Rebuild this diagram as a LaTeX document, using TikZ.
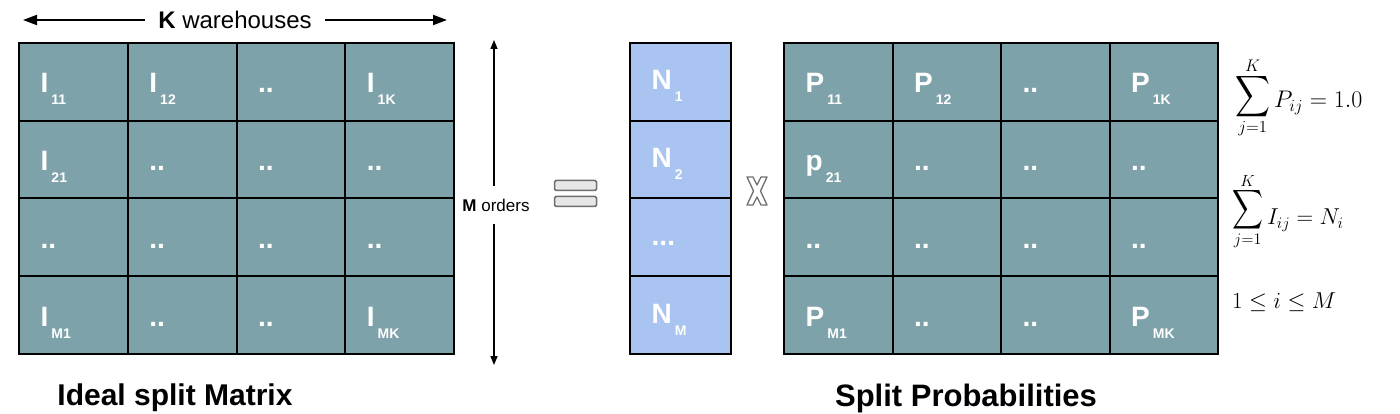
\RequirePackage{fix-cm}
\documentclass[tikz,border=0pt]{standalone}
\usepackage[no-math]{fontspec}
\setmainfont{Liberation Sans}
\usepackage{graphicx}
\usetikzlibrary{arrows.meta,calc}
\definecolor{cellteal}{HTML}{7EA2AA}
\definecolor{cellblue}{HTML}{A9C4F0}
\definecolor{eqgray}{HTML}{E6E6E6}
\definecolor{eqedge}{HTML}{6E6E6E}
\newcommand\lbl[2]{\fontsize{28}{28}\selectfont\bfseries #1\kern3pt\raisebox{-12pt}{\fontsize{14}{14}\selectfont #2}}
\newcommand\twodots{\fontsize{28}{28}\selectfont\bfseries ..}
\newcommand\threedots{\fontsize{28}{28}\selectfont\bfseries ...}
\newcommand\bigsum[3]{\mathop{\raisebox{#3}{$\vcenter{\hbox{\resizebox*{#1}{#2}{$\displaystyle\sum$}}}$}}\limits}
\begin{document}
\begin{tikzpicture}[x=1pt,y=-1pt,
  cellT/.style={draw=black,line width=2pt,fill=cellteal,minimum width=108.75pt,minimum height=77.75pt,inner sep=0pt,anchor=north west},
  cellB/.style={draw=black,line width=2pt,fill=cellblue,minimum width=101pt,minimum height=77.75pt,inner sep=0pt,anchor=north west},
  lab/.style={text=white,anchor=base west,inner sep=0pt,xshift=22.5pt,yshift=-51pt},
  karr/.style={line width=2pt,-{Triangle[length=14pt,width=10pt]}},
  marr/.style={line width=1.5pt,-{Triangle[length=9pt,width=7pt]}},
  eqbar/.style={draw=eqedge,fill=eqgray,line width=1.5pt,rounded corners=1.5pt,minimum width=42pt,minimum height=10pt,inner sep=0pt},
  mth/.style={inner sep=0pt,anchor=base west}]
\useasboundingbox (0,0) rectangle (1400,414);
% matrices
\foreach \r in {1,...,4}{\foreach \c in {1,...,4}{
  \node[cellT] (L\r\c) at ({18+(\c-1)*108.75},{42+(\r-1)*77.75}) {};
  \node[cellT] (R\r\c) at ({783+(\c-1)*108.5},{42+(\r-1)*77.75}) {};
}}
\foreach \r in {1,...,4} \node[cellB] (N\r) at (629,{42+(\r-1)*77.75}) {};
% left labels
\node[lab] (tL11) at (L11.north west) {\lbl{I}{11}};
\node[lab] (tL12) at (L12.north west) {\lbl{I}{12}};
\node[lab] (tL13) at (L13.north west) {\twodots};
\node[lab] (tL14) at (L14.north west) {\lbl{I}{1K}};
\node[lab] (tL21) at (L21.north west) {\lbl{I}{21}};
\node[lab] (tL22) at (L22.north west) {\twodots};
\node[lab] (tL23) at (L23.north west) {\twodots};
\node[lab] (tL24) at (L24.north west) {\twodots};
\node[lab] (tL31) at (L31.north west) {\twodots};
\node[lab] (tL32) at (L32.north west) {\twodots};
\node[lab] (tL33) at (L33.north west) {\twodots};
\node[lab] (tL34) at (L34.north west) {\twodots};
\node[lab] (tL41) at (L41.north west) {\lbl{I}{M1}};
\node[lab] (tL42) at (L42.north west) {\twodots};
\node[lab] (tL43) at (L43.north west) {\twodots};
\node[lab] (tL44) at (L44.north west) {\lbl{I}{MK}};
% right labels
\node[lab] (tR11) at (R11.north west) {\lbl{P}{11}};
\node[lab] (tR12) at (R12.north west) {\lbl{P}{12}};
\node[lab] (tR13) at (R13.north west) {\twodots};
\node[lab] (tR14) at (R14.north west) {\lbl{P}{1K}};
\node[lab] (tR21) at (R21.north west) {\lbl{p}{21}};
\node[lab] (tR22) at (R22.north west) {\twodots};
\node[lab] (tR23) at (R23.north west) {\twodots};
\node[lab] (tR24) at (R24.north west) {\twodots};
\node[lab] (tR31) at (R31.north west) {\twodots};
\node[lab] (tR32) at (R32.north west) {\twodots};
\node[lab] (tR33) at (R33.north west) {\twodots};
\node[lab] (tR34) at (R34.north west) {\twodots};
\node[lab] (tR41) at (R41.north west) {\lbl{P}{M1}};
\node[lab] (tR42) at (R42.north west) {\twodots};
\node[lab] (tR43) at (R43.north west) {\twodots};
\node[lab] (tR44) at (R44.north west) {\lbl{P}{MK}};
% N labels
\node[lab,yshift=3pt] (tN1) at (N1.north west) {\lbl{N}{1}};
\node[lab,yshift=3pt] (tN2) at (N2.north west) {\lbl{N}{2}};
\node[lab,yshift=3pt] (tN3) at (N3.north west) {\threedots};
\node[lab,yshift=3pt] (tN4) at (N4.north west) {\lbl{N}{M}};
% K warehouses
\node[inner xsep=13pt,inner ysep=0pt] (ktext) at (235,20) {\fontsize{24}{24}\selectfont\textbf{K} warehouses};
\coordinate (kL) at (23,20);
\coordinate (kR) at (447,20);
\draw[karr] (ktext.west) -- (kL);
\draw[karr] (ktext.east) -- (kR);
% M orders
\node[inner xsep=0pt,minimum height=38pt] (mtext) at (496,205) {\fontsize{17}{17}\selectfont\textbf{M} orders};
\coordinate (mT) at (494,40);
\coordinate (mB) at (494,365);
\draw[marr] (mtext.north -| mT) -- (mT);
\draw[marr] (mtext.south -| mB) -- (mB);
% equals
\node[eqbar] (eq1) at (575.5,185.5) {};
\node[eqbar] (eq2) at (575.5,201.5) {};
% times
\draw[draw=eqedge,fill=white,line width=1.3pt,line join=round]
  (747,177) -- (753,177) -- (757,185) -- (761,177) -- (767,177) -- (760.5,191)
  -- (767,205) -- (761,205) -- (757,197) -- (753,205) -- (747,205) -- (753.5,191) -- cycle;
% formulas
\node[mth] (f1) at (1235,108) {\fontsize{24}{24}\selectfont$\bigsum{35pt}{46pt}{5pt}_{j=1}^{K} P_{ij} = 1.0$};
\node[mth] (f2) at (1232,225) {\fontsize{23}{23}\selectfont$\bigsum{31pt}{44pt}{9pt}_{j=1}^{K} I_{ij} = N_i$};
\node[mth] (f3) at (1232,308) {\fontsize{23}{23}\selectfont$1 \le i \le M$};
% titles
\node[anchor=base,inner sep=0pt] (t1) at (175,405) {\fontsize{30}{30}\selectfont\bfseries Ideal split Matrix};
\node[anchor=base,inner sep=0pt] (t2) at (966,406) {\fontsize{31}{31}\selectfont\bfseries Split Probabilities};
\end{tikzpicture}
\end{document}
